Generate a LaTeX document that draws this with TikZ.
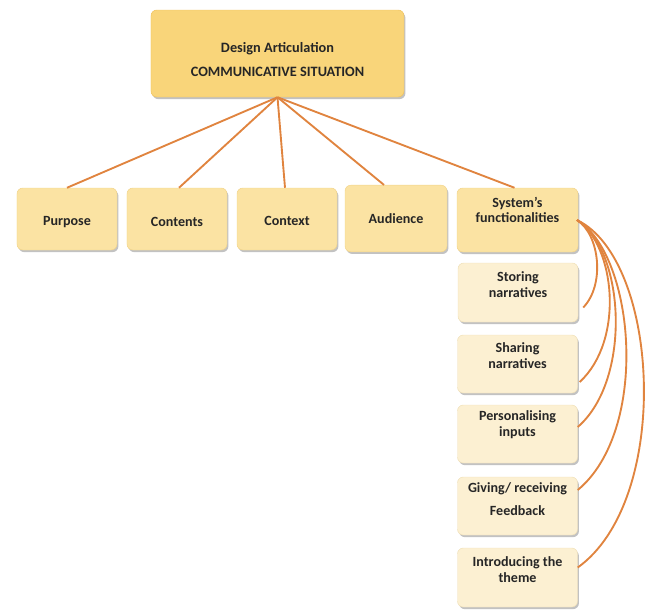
\documentclass[tikz,border=0pt]{standalone}
\usepackage{fontspec}
\setmainfont{Carlito}
\usetikzlibrary{shadows,calc}
\definecolor{topfill}{HTML}{F9D57A}
\definecolor{topdraw}{HTML}{F0C35E}
\definecolor{rowfill}{HTML}{FBE3A3}
\definecolor{rowdraw}{HTML}{F2D48A}
\definecolor{subfill}{HTML}{FCF0D2}
\definecolor{subdraw}{HTML}{F0E0B8}
\definecolor{wire}{HTML}{E0843F}
\tikzset{
  boxbase/.style={rounded corners=5pt, draw, line width=0.4pt,
    drop shadow={shadow xshift=1.2pt, shadow yshift=-1.8pt, fill=black!40, opacity=0.6}},
  topbox/.style={boxbase, fill=topfill, draw=topdraw},
  rowbox/.style={boxbase, fill=rowfill, draw=rowdraw},
  subbox/.style={boxbase, fill=subfill, draw=subdraw},
  lbl/.style={font=\bfseries\fontsize{12}{14}\selectfont, text=black!85, align=center, inner sep=0pt},
  wirestyle/.style={draw=wire, line width=1.6pt},
}
\begin{document}
\begin{tikzpicture}[x=0.03cm, y=-0.03cm]
\useasboundingbox (0,0) rectangle (648,610);
% boxes
\node[topbox, minimum width=7.59cm, minimum height=2.61cm] (top) at (277.5,53.5) {};
\node[rowbox, minimum width=3.0cm, minimum height=1.86cm] (purpose) at (67,219) {};
\node[rowbox, minimum width=3.0cm, minimum height=1.86cm] (contents) at (177,219) {};
\node[rowbox, minimum width=3.0cm, minimum height=1.86cm] (context) at (287,219) {};
\node[rowbox, minimum width=3.06cm, minimum height=2.0cm] (audience) at (396,218.5) {};
\node[rowbox, minimum width=3.63cm, minimum height=1.92cm] (sys) at (517.5,220) {};
\node[subbox, minimum width=3.6cm, minimum height=1.77cm] (storing) at (518,292.5) {};
\node[subbox, minimum width=3.6cm, minimum height=1.74cm] (sharing) at (517.5,364) {};
\node[subbox, minimum width=3.6cm, minimum height=1.74cm] (personal) at (517.5,434) {};
\node[subbox, minimum width=3.6cm, minimum height=1.74cm] (giving) at (517.5,506) {};
\node[subbox, minimum width=3.6cm, minimum height=1.77cm] (intro) at (517.5,577.5) {};
% labels
\node[lbl, font=\bfseries\fontsize{12.2}{20.5}\selectfont] (topl) at (277.5,60) {Design Articulation\\COMMUNICATIVE SITUATION};
\node[lbl] (purposel) at (67,222) {Purpose};
\node[lbl] (contentsl) at (177,222) {Contents};
\node[lbl] (contextl) at (287,221) {Context};
\node[lbl] (audiencel) at (396,219) {Audience};
\node[lbl, font=\bfseries\fontsize{12}{12.5}\selectfont] (sysl) at (517.5,210) {System’s\\functionalities};
\node[lbl, font=\bfseries\fontsize{12}{13.5}\selectfont] (storingl) at (518,285) {Storing\\narratives};
\node[lbl, font=\bfseries\fontsize{12}{13.5}\selectfont] (sharingl) at (517.5,355.5) {Sharing\\narratives};
\node[lbl, font=\bfseries\fontsize{12}{13.5}\selectfont] (personall) at (517.5,425) {Personalising\\inputs};
\node[lbl, font=\bfseries\fontsize{12}{19}\selectfont] (givingl) at (517.5,499) {Giving/ receiving\\Feedback};
\node[lbl, font=\bfseries\fontsize{12}{13.5}\selectfont] (introl) at (517.5,569.5) {Introducing the\\theme};
% connectors from top
\coordinate (hub) at ($(top.south)+(0,0)$);
\draw[wirestyle] (hub) -- (purpose.north);
\draw[wirestyle] (hub) -- ($(contents.north)+(2,0)$);
\draw[wirestyle] (hub) -- ($(context.north)+(-2,0)$);
\draw[wirestyle] (hub) -- ($(audience.north)+(-12,0)$);
\draw[wirestyle] (hub) -- ($(sys.north)+(-3,0)$);
% arcs
\coordinate (s0) at (577,220);
\draw[wirestyle] (s0) .. controls (600,235) and (605,285) .. ($(storing.east)+(5,15)$);
\draw[wirestyle] (s0) .. controls (615,245) and (625,340) .. ($(sharing.east)+(2,18)$);
\draw[wirestyle] (s0) .. controls (625,250) and (632,380) .. ($(personal.east)+(0,-7)$);
\draw[wirestyle] (s0) .. controls (635,255) and (650,430) .. ($(giving.east)+(0,-16)$);
\draw[wirestyle] (s0) .. controls (660,260) and (672,500) .. ($(intro.east)+(0,-10)$);
\end{tikzpicture}
\end{document}
